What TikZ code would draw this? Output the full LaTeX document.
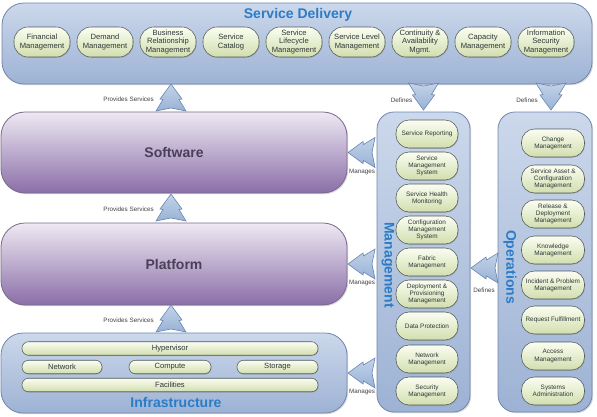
\documentclass[tikz,border=0pt]{standalone}
\usepackage{fontspec}
\setmainfont{Liberation Sans}
\usetikzlibrary{shadows,calc}
\definecolor{boxtop}{HTML}{CCD8EB}
\definecolor{boxbot}{HTML}{9DB2D4}
\definecolor{boxline}{HTML}{6F87AD}
\definecolor{ovtop}{HTML}{FBFDF1}
\definecolor{ovbot}{HTML}{D1DEAE}
\definecolor{ovline}{HTML}{4F5B59}
\definecolor{purtop}{HTML}{EEE9F3}
\definecolor{purbot}{HTML}{8A6EA8}
\definecolor{purline}{HTML}{78698C}
\definecolor{titleblue}{HTML}{2B7CC8}
\definecolor{arrtop}{HTML}{C3D3E8}
\definecolor{arrbot}{HTML}{98B2D6}
\definecolor{arrline}{HTML}{6A85AF}
\definecolor{itemtext}{HTML}{2F3838}
\definecolor{labeltext}{HTML}{404040}
\definecolor{layertext}{HTML}{4A3F58}
\tikzset{
  bigbox/.style={draw=boxline, line width=0.8pt, top color=boxtop, bottom color=boxbot,
    rounded corners=22pt, inner sep=0pt, outer sep=0pt, anchor=north west,
    drop shadow={shadow xshift=1.2pt, shadow yshift=-1.2pt, opacity=0.3}},
  colbox/.style={bigbox, rounded corners=17pt},
  layerbox/.style={draw=purline, line width=0.8pt, top color=purtop, bottom color=purbot,
    rounded corners=24pt, inner sep=0pt, outer sep=0pt, anchor=north west,
    drop shadow={shadow xshift=1.2pt, shadow yshift=-1.2pt, opacity=0.3}},
  oval/.style={draw=ovline, line width=0.55pt, top color=ovtop, bottom color=ovbot,
    inner sep=0pt, outer sep=0pt, align=center, text=itemtext,
    drop shadow={shadow xshift=0.7pt, shadow yshift=-0.8pt, opacity=0.35}},
  sditem/.style={oval, minimum width=56pt, minimum height=30pt, rounded corners=14pt,
    font=\fontsize{7.6}{8.3}\selectfont},
  colitem/.style={oval, minimum width=62pt, minimum height=28pt, rounded corners=13pt,
    font=\fontsize{6.4}{7.3}\selectfont},
  opitem/.style={colitem, minimum width=63pt},
  bar/.style={oval, minimum height=13.5pt, rounded corners=6.5pt,
    font=\fontsize{7.6}{8}\selectfont},
  title/.style={text=titleblue, font=\fontsize{14}{16}\selectfont\bfseries, inner sep=0pt},
  layertitle/.style={text=layertext, font=\fontsize{14}{16}\selectfont\bfseries, inner sep=0pt},
  lbl/.style={text=labeltext, font=\fontsize{6.3}{7}\selectfont, inner sep=0pt},
  fatarrow/.pic={\draw[draw=arrline, line width=0.6pt, top color=arrtop, bottom color=arrbot, line join=miter]
    (0,-14) -- (11,1) -- (8,1.5) -- (15,13) -- (0,10) -- (-15,13) -- (-8,1.5) -- (-11,1) -- cycle;}
}
\begin{document}
\begin{tikzpicture}[x=1pt,y=-1pt]
\useasboundingbox (0,0) rectangle (597,416);
% Service Delivery
\node[bigbox, minimum width=590pt, minimum height=81pt] (sd) at (2,3) {};
\node[title] (sdt) at (298,15) {Service Delivery};
\node[sditem] (s1) at (42,42) {Financial\\Management};
\node[sditem] (s2) at (105,42) {Demand\\Management};
\node[sditem] (s3) at (168,42) {Business\\Relationship\\Management};
\node[sditem] (s4) at (231,42) {Service\\Catalog};
\node[sditem] (s5) at (294,42) {Service\\Lifecycle\\Management};
\node[sditem] (s6) at (357,42) {Service Level\\Management};
\node[sditem] (s7) at (420,42) {Continuity \&\\Availability\\Mgmt.};
\node[sditem] (s8) at (483,42) {Capacity\\Management};
\node[sditem] (s9) at (546,42) {Information\\Security\\Management};
% Layers
\node[layerbox, minimum width=346pt, minimum height=81pt] (software) at (1,112) {};
\node[layertitle] at (software.center) {Software};
\node[layerbox, minimum width=346pt, minimum height=82pt] (platform) at (1,223) {};
\node[layertitle] at (platform.center) {Platform};
\node[bigbox, minimum width=346pt, minimum height=80pt] (infra) at (1,333) {};
\node[title] (infrat) at (176,402) {Infrastructure};
\node[bar, minimum width=296pt] (hyp) at (170,348.5) {Hypervisor};
\node[bar, minimum width=80pt] (net) at (62,367) {Network};
\node[bar, minimum width=82pt] (comp) at (170,367) {Compute};
\node[bar, minimum width=81pt] (stor) at (277.5,367) {Storage};
\node[bar, minimum width=296pt] (fac) at (170,385) {Facilities};
% Management column
\node[colbox, minimum width=93pt, minimum height=300pt] (mgmt) at (377,112) {};
\node[title, rotate=-90] (mgmtt) at (388,265) {Management};
\node[colitem] (m1) at (427,134) {Service Reporting};
\node[colitem] (m2) at (427,166) {Service\\Management\\System};
\node[colitem] (m3) at (427,198) {Service Health\\Monitoring};
\node[colitem] (m4) at (427,230) {Configuration\\Management\\System};
\node[colitem] (m5) at (427,262) {Fabric\\Management};
\node[colitem] (m6) at (427,294) {Deployment \&\\Provisioning\\Management};
\node[colitem] (m7) at (427,326) {Data Protection};
\node[colitem] (m8) at (427,359) {Network\\Management};
\node[colitem] (m9) at (427,391) {Security\\Management};
% Operations column
\node[colbox, minimum width=94pt, minimum height=300pt] (ops) at (498,112) {};
\node[title, rotate=-90] (opst) at (510,267) {Operations};
\node[opitem] (o1) at (553,143) {Change\\Management};
\node[opitem] (o2) at (553,179) {Service Asset \&\\Configuration\\Management};
\node[opitem] (o3) at (553,214) {Release \&\\Deployment\\Management};
\node[opitem] (o4) at (553,250) {Knowledge\\Management};
\node[opitem] (o5) at (553,285) {Incident \& Problem\\Management};
\node[opitem] (o6) at (553,320) {Request Fulfillment};
\node[opitem] (o7) at (553,356) {Access\\Management};
\node[opitem] (o8) at (553,391) {Systems\\Administration};
% Provides Services arrows
\coordinate (p1) at ($(software.north)!0.5!(sd.south -| software.north)$);
\coordinate (p2) at ($(platform.north)!0.5!(software.south)$);
\coordinate (p3) at ($(infra.north)!0.5!(platform.south)$);
\foreach \c in {p1,p2,p3}{
  \pic at ($(\c)+(-3,0)$) {fatarrow};
  \node[lbl, anchor=east] at ($(\c)+(-20,1)$) {Provides Services};
}
% Manages arrows
\coordinate (g1) at ($(software.east)!0.5!(software.east -| mgmt.west)$);
\coordinate (g2) at ($(platform.east)!0.5!(platform.east -| mgmt.west)$);
\coordinate (g3) at ($(infra.east)!0.5!(infra.east -| mgmt.west)$);
\foreach \c in {g1,g2,g3}{
  \pic[rotate=90] at (\c) {fatarrow};
  \node[lbl] at ($(\c)+(0,19)$) {Manages};
}
% Defines arrows
\coordinate (d1) at ($(mgmt.north)!0.5!(sd.south -| mgmt.north)$);
\coordinate (d2) at ($(ops.north)!0.5!(sd.south -| ops.north)$);
\coordinate (d3) at ($(mgmt.east)!0.5!(ops.west)$);
\pic[rotate=180] at ($(d1)+(0,-2)$) {fatarrow};
\node[lbl] at ($(d1)+(-22,2)$) {Defines};
\pic[rotate=180] at ($(d2)+(6,-2)$) {fatarrow};
\node[lbl] at ($(d2)+(-18,2)$) {Defines};
\pic[rotate=90] at ($(d3)+(1,6)$) {fatarrow};
\node[lbl] at ($(d3)+(0,28)$) {Defines};
\end{tikzpicture}
\end{document}
